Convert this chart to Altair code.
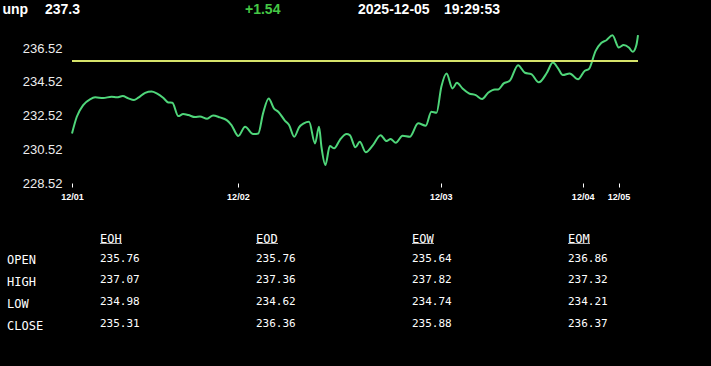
import altair as alt
import pandas as pd

# ---- header values ----
ticker = "unp"
last_price = "237.3"
change = "+1.54"
date_str = "2025-12-05"
time_str = "19:29:53"

# ---- price series (sample index, price) ----
t_vals = [0, 1.2, 2.8, 4.5, 5.8, 7.8, 9.9, 11.2, 12.7, 14.1, 15.5, 16.6, 18.3, 19.9,
          21.2, 22.8, 24.1, 25.1, 26.6, 27.8, 29.1, 30.8, 32, 33.8, 35.3, 37, 38.7,
          39.9, 41.6, 43.3, 45.3, 46.6, 47.8, 49.2, 50.5, 51.6, 53.3, 54.3, 55.6,
          56.8, 58, 59.3, 60.8, 61.8, 62.4, 63.4, 64.5, 65.6, 67, 68.7, 69.5, 70.9,
          72, 73.5, 75.3, 77.2, 78.7, 79.7, 81, 82.7, 84.5, 86.6, 88.5, 89.9, 91.2,
          92.4, 93.7, 95.2, 96.3, 97.7, 99.3, 101, 102.6, 104.1, 105.8, 106.6, 108,
          109.5, 111.6, 113.3, 114.9, 116.8, 118.8, 120.3, 121.6, 122.8, 124.5,
          126.6, 128.3, 129.3, 131, 132.4, 133.7, 135.2, 136.8, 138, 139.3, 140.3,
          141.2, 141.6]
prices = [231.46, 232.45, 233.14, 233.48, 233.60, 233.56, 233.64, 233.60, 233.68,
          233.54, 233.44, 233.58, 233.87, 233.95, 233.84, 233.58, 233.30, 233.28,
          232.49, 232.61, 232.55, 232.43, 232.47, 232.33, 232.53, 232.41, 232.25,
          231.96, 231.31, 231.86, 231.42, 231.46, 232.65, 233.54, 232.95, 232.75,
          232.21, 231.96, 231.26, 231.82, 232.06, 232.15, 230.87, 231.86, 230.67,
          229.59, 230.71, 230.58, 231.07, 231.42, 231.36, 230.64, 230.97, 230.34,
          230.77, 231.36, 231.01, 231.13, 230.91, 231.32, 231.26, 232.06, 231.92,
          232.75, 232.69, 234.23, 235.02, 234.13, 234.46, 234.13, 233.84, 233.73,
          233.50, 233.87, 234.07, 234.07, 234.43, 234.58, 235.51, 235.06, 234.98,
          234.49, 235.06, 235.67, 235.32, 234.92, 235.02, 234.67, 235.18, 235.28,
          236.36, 236.83, 236.99, 237.29, 236.56, 236.70, 236.56, 236.30, 236.70,
          237.29]
ref_level = 235.76

tick_t = [0, 41.5, 92.25, 127.75, 136.75]
tick_labels = ["12/01", "12/02", "12/03", "12/04", "12/05"]
y_ticks = [228.52, 230.52, 232.52, 234.52, 236.52]

# ---- table ----
table_cols = ["EOH", "EOD", "EOW", "EOM"]
table_rows = ["OPEN", "HIGH", "LOW", "CLOSE"]
eoh = ["235.76", "237.07", "234.98", "235.31"]
eod = ["235.76", "237.36", "234.62", "236.36"]
eow = ["235.64", "237.82", "234.74", "235.88"]
eom = ["236.86", "237.32", "234.21", "236.37"]

W, H = 566, 148
FONT = "Liberation Sans"
MONO = "DejaVu Sans Mono"

line_df = pd.DataFrame({"t": t_vals, "price": prices})
label_expr = "".join(f"datum.value == {v} ? '{l}' : " for v, l in zip(tick_t, tick_labels)) + "''"

y_scale = alt.Scale(domain=[228.52, 237.3], nice=False, zero=False)
y_axis = alt.Axis(values=y_ticks, format=".2f", title=None, grid=False, domain=False,
                  ticks=False, labelColor="#eeeeee", labelFont=FONT, labelFontSize=13,
                  labelPadding=10, labelOverlap=False, labelBound=False)
xs = alt.X("t:Q", scale=alt.Scale(domain=[0, t_vals[-1]], nice=False, zero=False),
           axis=alt.Axis(values=tick_t, labelExpr=label_expr, title=None, grid=False,
                         domain=False, tickColor="#ffffff", tickSize=4, labelColor="#ffffff",
                         labelFont=FONT, labelFontSize=9, labelFontWeight="bold",
                         labelPadding=5, labelAngle=0, labelFlush=False, labelOverlap=False))

line = alt.Chart(line_df).mark_line(color="#4fd67a", strokeWidth=2, interpolate="monotone").encode(
    x=xs, y=alt.Y("price:Q", scale=y_scale, axis=y_axis))
ref = alt.Chart(pd.DataFrame({"price": [ref_level]})).mark_rule(
    color="#d6e36a", strokeWidth=2).encode(y=alt.Y("price:Q", scale=y_scale, axis=y_axis))
price_layer = alt.layer(line, ref)

# table data
cells = []
for c, vals in zip(table_cols, [eoh, eod, eow, eom]):
    for r, v in zip(table_rows, vals):
        cells.append({"col": c, "row": r, "val": v})
cells_df = pd.DataFrame(cells)
cols_df = pd.DataFrame({"col": table_cols})
rows_df = pd.DataFrame({"row": table_rows})

col_scale = alt.Scale(type="point", domain=table_cols, range=[28, 496], padding=0)
row_scale = alt.Scale(type="point", domain=table_rows, range=[223.5, 289], padding=0)
col_x = alt.X("col:N", scale=col_scale, axis=None)
row_y = alt.Y("row:N", scale=row_scale, axis=None)

vals_layer = alt.Chart(cells_df).mark_text(
    align="left", baseline="middle", font=MONO, fontSize=11, color="#ffffff").encode(
    x=col_x, y=row_y, text="val:N")
hdr_layer = alt.Chart(cols_df).mark_text(
    align="left", baseline="middle", font=MONO, fontSize=12, color="#ffffff").encode(
    x=col_x, y=alt.value(203.5), text="col:N")
underline = alt.Chart(cols_df).mark_tick(
    color="#ffffff", orient="horizontal", size=22, thickness=1, xOffset=11).encode(
    x=col_x, y=alt.value(208.5))
rowlab_layer = alt.Chart(rows_df).mark_text(
    align="left", baseline="middle", font=MONO, fontSize=12, color="#ffffff", dy=1.5).encode(
    x=alt.value(-65), y=alt.Y("row:N", scale=row_scale, axis=None), text="row:N")
table_layer = alt.layer(vals_layer, hdr_layer, underline, rowlab_layer)

# header
hdr_df = pd.DataFrame({"k": ["a"]})
def htxt(s, x, color="#ffffff"):
    return alt.Chart(hdr_df).mark_text(
        align="left", baseline="middle", font=FONT, fontSize=14, fontWeight="bold",
        color=color, text=s).encode(x=alt.value(x), y=alt.value(-25))

header = alt.layer(
    htxt(ticker, -69.5),
    htxt(last_price, -27),
    htxt(change, 173, "#45c845"),
    htxt(date_str, 286),
    htxt(time_str, 372),
)

chart = alt.layer(price_layer, table_layer, header).resolve_scale(
    x="independent", y="independent"
).properties(
    width=W, height=H,
    autosize=alt.AutoSizeParams(type="none"),
    padding={"left": 72, "top": 35, "right": 73, "bottom": 183},
    background="#000000",
).configure_view(strokeWidth=0).configure_axis(labelOverlap=False)

chart.save("out.html", embed_options={"renderer": "svg", "actions": False})
